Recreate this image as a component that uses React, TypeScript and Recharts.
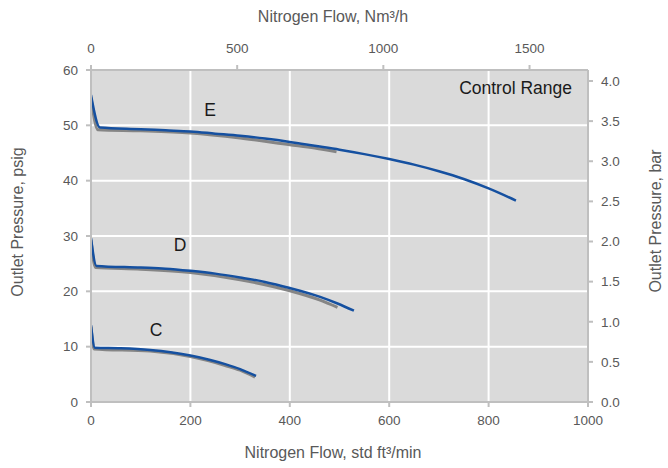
import React from 'react';
import { LineChart, Line, XAxis, YAxis, CartesianGrid } from 'recharts';

const scfmTicks = [0, 200, 400, 600, 800, 1000];
const nm3Ticks = [0, 500, 1000, 1500];
const psigTicks = [0, 10, 20, 30, 40, 50, 60];
const barTicks = [0, 0.5, 1, 1.5, 2, 2.5, 3, 3.5, 4];

const curveEBlue = [
  { x: 0, y: 55.5 }, { x: 18, y: 49.6 }, { x: 100, y: 49.3 }, { x: 150, y: 49.1 },
  { x: 200, y: 48.9 }, { x: 250, y: 48.5 }, { x: 300, y: 48.1 }, { x: 350, y: 47.6 },
  { x: 400, y: 47.0 }, { x: 450, y: 46.3 }, { x: 500, y: 45.6 }, { x: 550, y: 44.8 },
  { x: 600, y: 43.9 }, { x: 650, y: 42.9 }, { x: 700, y: 41.7 }, { x: 750, y: 40.3 },
  { x: 800, y: 38.6 }, { x: 855, y: 36.4 },
];
const curveEGray = [
  { x: 0, y: 55.0 }, { x: 14, y: 49.2 }, { x: 100, y: 49.0 }, { x: 200, y: 48.6 },
  { x: 300, y: 47.7 }, { x: 400, y: 46.5 }, { x: 450, y: 45.9 }, { x: 494, y: 45.2 },
];
const curveDBlue = [
  { x: 0, y: 29.6 }, { x: 11, y: 24.6 }, { x: 100, y: 24.3 }, { x: 150, y: 24.1 },
  { x: 200, y: 23.7 }, { x: 250, y: 23.2 }, { x: 300, y: 22.5 }, { x: 350, y: 21.7 },
  { x: 400, y: 20.6 }, { x: 461, y: 19.0 }, { x: 496, y: 17.8 }, { x: 529, y: 16.5 },
];
const curveDGray = [
  { x: 0, y: 29.3 }, { x: 9, y: 24.3 }, { x: 100, y: 24.0 }, { x: 200, y: 23.4 },
  { x: 300, y: 22.1 }, { x: 400, y: 20.1 }, { x: 461, y: 18.4 }, { x: 496, y: 17.1 },
];
const curveCBlue = [
  { x: 0, y: 13.9 }, { x: 8, y: 9.8 }, { x: 60, y: 9.7 }, { x: 119, y: 9.4 },
  { x: 160, y: 9.0 }, { x: 200, y: 8.4 }, { x: 240, y: 7.6 }, { x: 270, y: 6.85 },
  { x: 300, y: 5.95 }, { x: 332, y: 4.7 },
];
const curveCGray = [
  { x: 0, y: 13.6 }, { x: 6, y: 9.6 }, { x: 119, y: 9.2 }, { x: 200, y: 8.2 },
  { x: 270, y: 6.6 }, { x: 300, y: 5.75 }, { x: 330, y: 4.5 },
];

const curveLabels = [
  { text: 'E', x: 210, y: 110 },
  { text: 'D', x: 180, y: 245 },
  { text: 'C', x: 156, y: 330 },
];

const FONT = '"Liberation Sans", Arial, Helvetica, sans-serif';
const TEXT = '#595959';
const AXIS = '#bfbfbf';
const BLUE = '#1550a0';
const GRAY = '#858585';

const tickStyle = { fill: TEXT, fontSize: 13.5, fontFamily: FONT };

export default function App() {
  return (
    <div style={{ position: 'absolute', left: 0, top: 0, width: 668, height: 468, background: '#fff' }}>
      <LineChart
        width={668}
        height={468}
        margin={{ top: 30, right: 30, bottom: 26, left: 41 }}
      >
        <CartesianGrid
          xAxisId="bottom"
          yAxisId="left"
          fill="#dadada"
          fillOpacity={1}
          stroke="#ffffff"
          strokeWidth={2}
        />
        <XAxis
          xAxisId="bottom"
          type="number"
          dataKey="x"
          orientation="bottom"
          domain={[0, 1000]}
          ticks={scfmTicks}
          height={40}
          tick={tickStyle}
          tickSize={5}
          tickMargin={8}
          stroke={AXIS}
          strokeWidth={2}
          allowDataOverflow
        />
        <XAxis
          xAxisId="top"
          type="number"
          dataKey="x"
          orientation="top"
          domain={[0, 1700]}
          ticks={nm3Ticks}
          height={40}
          tick={tickStyle}
          tickSize={5}
          tickMargin={12}
          stroke={AXIS}
          strokeWidth={2}
          allowDataOverflow
        />
        <YAxis
          yAxisId="left"
          type="number"
          orientation="left"
          domain={[0, 60]}
          ticks={psigTicks}
          width={50}
          tick={tickStyle}
          tickSize={5}
          tickMargin={8}
          stroke={AXIS}
          strokeWidth={2}
          allowDataOverflow
        />
        <YAxis
          yAxisId="right"
          type="number"
          orientation="right"
          domain={[0, 4.137]}
          ticks={barTicks}
          tickFormatter={(v: number) => v.toFixed(1)}
          width={50}
          tick={tickStyle}
          tickSize={5}
          tickMargin={8}
          stroke={AXIS}
          strokeWidth={2}
          allowDataOverflow
        />
        <Line xAxisId="top" yAxisId="right" data={[]} dataKey="y" stroke="none" dot={false} isAnimationActive={false} legendType="none" />
        <Line xAxisId="bottom" yAxisId="left" data={curveEGray} dataKey="y" type="monotone" stroke={GRAY} strokeWidth={3} strokeLinejoin="round" dot={false} isAnimationActive={false} />
        <Line xAxisId="bottom" yAxisId="left" data={curveDGray} dataKey="y" type="monotone" stroke={GRAY} strokeWidth={3} strokeLinejoin="round" dot={false} isAnimationActive={false} />
        <Line xAxisId="bottom" yAxisId="left" data={curveCGray} dataKey="y" type="monotone" stroke={GRAY} strokeWidth={3} strokeLinejoin="round" dot={false} isAnimationActive={false} />
        <Line xAxisId="bottom" yAxisId="left" data={curveEBlue} dataKey="y" type="monotone" stroke={BLUE} strokeWidth={2.5} strokeLinejoin="round" dot={false} isAnimationActive={false} />
        <Line xAxisId="bottom" yAxisId="left" data={curveDBlue} dataKey="y" type="monotone" stroke={BLUE} strokeWidth={2.5} strokeLinejoin="round" dot={false} isAnimationActive={false} />
        <Line xAxisId="bottom" yAxisId="left" data={curveCBlue} dataKey="y" type="monotone" stroke={BLUE} strokeWidth={2.5} strokeLinejoin="round" dot={false} isAnimationActive={false} />
      </LineChart>
      <svg
        width={668}
        height={468}
        style={{ position: 'absolute', left: 0, top: 0, pointerEvents: 'none' }}
      >
        <text x={333} y={16} textAnchor="middle" dominantBaseline="central" fill={TEXT} fontSize={16} fontFamily={FONT}>
          Nitrogen Flow, Nm³/h
        </text>
        <text x={333} y={452} textAnchor="middle" dominantBaseline="central" fill={TEXT} fontSize={16} fontFamily={FONT}>
          Nitrogen Flow, std ft³/min
        </text>
        <text x={17} y={222} textAnchor="middle" dominantBaseline="central" fill={TEXT} fontSize={16} fontFamily={FONT} transform="rotate(-90 17 222)">
          Outlet Pressure, psig
        </text>
        <text x={655} y={221} textAnchor="middle" dominantBaseline="central" fill={TEXT} fontSize={16} fontFamily={FONT} transform="rotate(-90 655 221)">
          Outlet Pressure, bar
        </text>
        <text x={572} y={88} textAnchor="end" dominantBaseline="central" fill="#1a1a1a" fontSize={17.5} fontFamily={FONT}>
          Control Range
        </text>
        {curveLabels.map((l) => (
          <text key={l.text} x={l.x} y={l.y} textAnchor="middle" dominantBaseline="central" fill="#1a1a1a" fontSize={17.5} fontFamily={FONT}>
            {l.text}
          </text>
        ))}
      </svg>
    </div>
  );
}
